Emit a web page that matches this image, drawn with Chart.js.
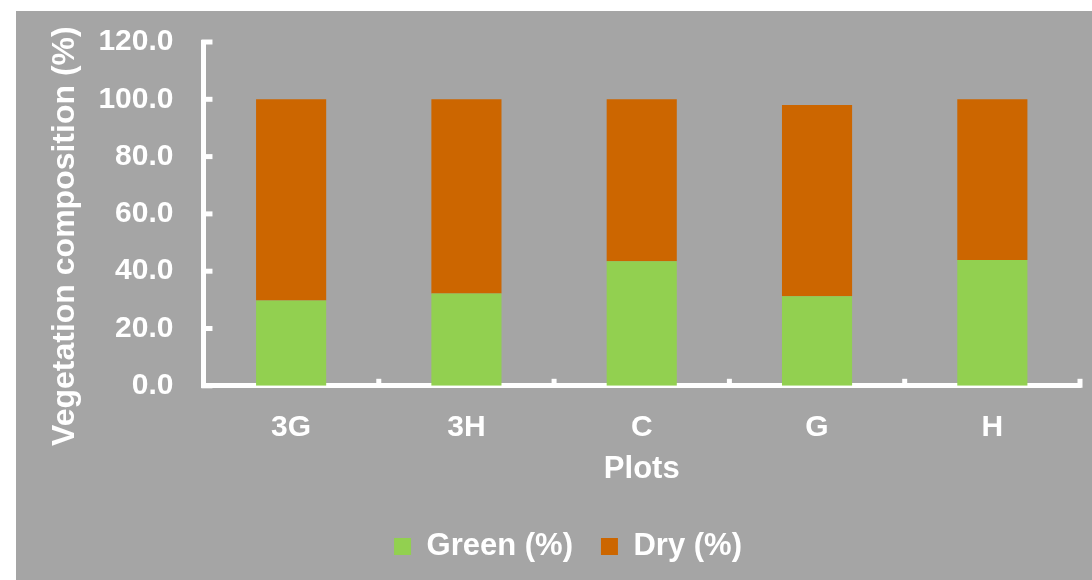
<!DOCTYPE html>
<html>
<head>
<meta charset="utf-8">
<script src="https://cdn.jsdelivr.net/npm/chart.js@4"></script>
<style>
    body { margin: 0; background: #ffffff; }
    #wrap {
        position: absolute;
        left: 16px;
        top: 11px;
        width: 1076px;
        height: 569px;
        background: #a5a5a5;
    }
</style>
</head>
<body>
<div id="wrap"><canvas id="compositionChart"></canvas></div>
<script>
const plots = ['3G', '3H', 'C', 'G', 'H'];
const greenPct = [29.8, 32.2, 43.5, 31.3, 43.9];
const dryPct = [70.2, 67.8, 56.5, 66.7, 56.1];
const yTicks = [0, 20, 40, 60, 80, 100, 120];

const FONT = "'Liberation Sans', Arial, sans-serif";

// Excel-style ticks that point into the plot area
const inwardTicks = {
    id: 'inwardTicks',
    afterDraw(chart) {
        const ctx = chart.ctx;
        const area = chart.chartArea;
        const y = chart.scales.y;
        ctx.save();
        ctx.strokeStyle = '#ffffff';
        ctx.lineWidth = 5;
        yTicks.forEach(function(v) {
            const py = y.getPixelForValue(v);
            ctx.beginPath();
            ctx.moveTo(area.left - 2, py);
            ctx.lineTo(area.left + 9, py);
            ctx.stroke();
        });
        const step = (area.right - area.left) / plots.length;
        for (let i = 1; i <= plots.length; i++) {
            const px = area.left + i * step;
            ctx.beginPath();
            ctx.moveTo(px, area.bottom + 2);
            ctx.lineTo(px, area.bottom - 7);
            ctx.stroke();
        }
        ctx.restore();
    }
};

// legend sits a little right of centre in the original
const nudgeLegend = {
    id: 'nudgeLegend',
    afterLayout(chart) {
        chart.legend.left += 20;
        chart.legend.right += 20;
    }
};

document.addEventListener('DOMContentLoaded', function() {
    const ctx = document.getElementById('compositionChart');
    new Chart(ctx.getContext('2d'), {
        type: 'bar',
        data: {
            labels: plots,
            datasets: [{
                label: 'Green (%)',
                data: greenPct,
                backgroundColor: '#92d050',
                barPercentage: 0.4,
                categoryPercentage: 1.0
            }, {
                label: 'Dry (%)',
                data: dryPct,
                backgroundColor: '#cc6600',
                barPercentage: 0.4,
                categoryPercentage: 1.0
            }]
        },
        options: {
            responsive: true,
            maintainAspectRatio: false,
            animation: false,
            layout: {
                padding: { top: 31, right: 12, bottom: 8, left: 0 }
            },
            plugins: {
                legend: {
                    position: 'bottom',
                    labels: {
                        color: '#ffffff',
                        boxWidth: 17,
                        boxHeight: 17,
                        padding: 28,
                        font: { family: FONT, size: 31, weight: 'bold' }
                    }
                },
                tooltip: { enabled: false }
            },
            scales: {
                x: {
                    stacked: true,
                    offset: true,
                    grid: { display: false, drawTicks: false },
                    border: { color: '#ffffff', width: 5 },
                    ticks: {
                        color: '#ffffff',
                        padding: 24,
                        font: { family: FONT, size: 30, weight: 'bold' }
                    },
                    title: {
                        display: true,
                        text: 'Plots',
                        color: '#ffffff',
                        padding: { top: -19, bottom: 15 },
                        font: { family: FONT, size: 31, weight: 'bold' }
                    }
                },
                y: {
                    stacked: true,
                    min: 0,
                    max: 120,
                    grid: { display: false, drawTicks: false },
                    border: { color: '#ffffff', width: 5 },
                    afterBuildTicks: function(scale) {
                        scale.ticks = yTicks.map(v => ({ value: v }));
                    },
                    afterFit: function(scale) {
                        // the tick padding should not push the plot area down
                        scale.paddingTop = 0;
                        scale.paddingBottom = 0;
                    },
                    ticks: {
                        color: '#ffffff',
                        padding: 30,
                        font: { family: FONT, size: 30, weight: 'bold' },
                        callback: function(value) {
                            return Number(value).toFixed(1);
                        }
                    },
                    title: {
                        display: true,
                        text: 'Vegetation composition (%)\u00a0\u00a0\u00a0\u00a0\u00a0',
                        color: '#ffffff',
                        padding: { top: 30, bottom: -16 },
                        font: { family: FONT, size: 32, weight: 'bold' }
                    }
                }
            }
        },
        plugins: [inwardTicks, nudgeLegend]
    });
});
</script>
</body>
</html>
